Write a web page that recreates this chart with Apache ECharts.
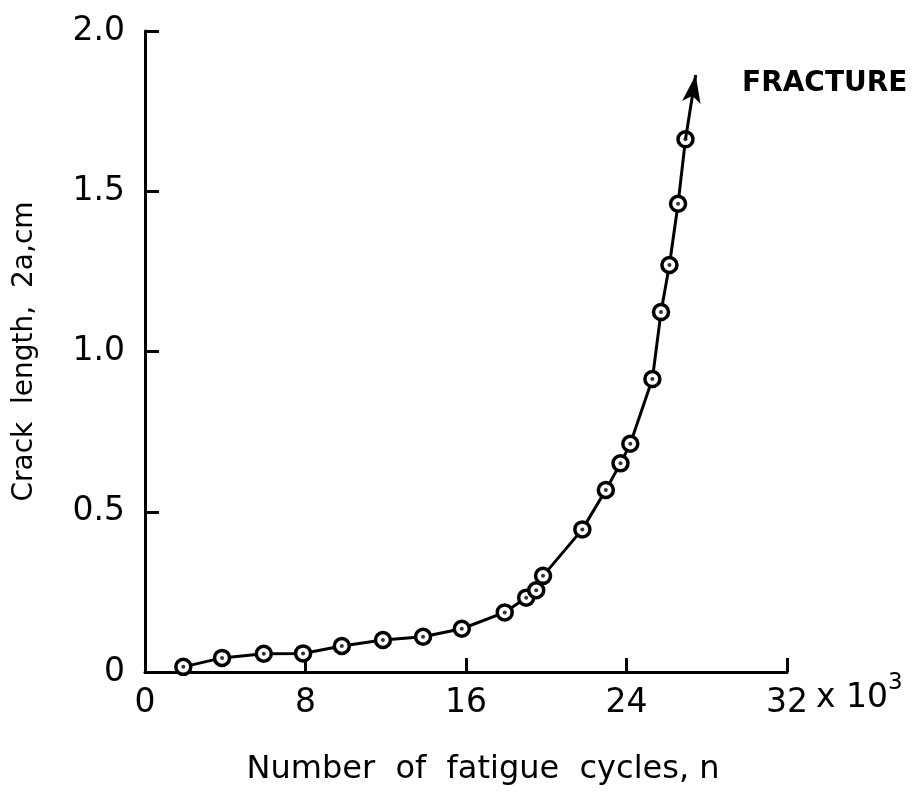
<!DOCTYPE html>
<html>
<head>
<meta charset="utf-8">
<script src="https://cdn.jsdelivr.net/npm/echarts@6/dist/echarts.min.js"></script>
<style>
html, body { margin: 0; padding: 0; background: #fff; }
#chart { width: 924px; height: 795px; }
</style>
</head>
<body>
<div id="chart"></div>
<script>
// cycles (x 10^3) and crack length 2a (cm)
var cycles = [1.91, 3.84, 5.92, 7.88, 9.81, 11.86, 13.86, 15.79, 17.93, 19.0, 19.5, 19.84,
              21.8, 22.97, 23.7, 24.19, 25.29, 25.72, 26.14, 26.57, 26.94];
var crackLength = [0.016, 0.044, 0.057, 0.058, 0.081, 0.100, 0.110, 0.135, 0.186, 0.232, 0.255, 0.300,
                   0.445, 0.568, 0.651, 0.712, 0.914, 1.123, 1.270, 1.461, 1.662];
var fractureTip = [27.45, 1.863];
var xTicks = [0, 8, 16, 24, 32];
var yTicks = [0, 0.5, 1.0, 1.5, 2.0];

var font = 'DejaVu Sans';
var points = cycles.map(function (c, i) { return [c, crackLength[i]]; });
var last = points[points.length - 1];

var chart = echarts.init(document.getElementById('chart'));
var option = {
    backgroundColor: '#fff',
    animation: false,
    grid: { left: 145, right: 137, top: 31, bottom: 123 },
    xAxis: {
        type: 'value',
        min: xTicks[0],
        max: xTicks[xTicks.length - 1],
        interval: 8,
        name: 'Number  of  fatigue  cycles, n',
        nameLocation: 'middle',
        nameGap: 82,
        nameTextStyle: { fontFamily: font, fontSize: 32, color: '#000', padding: [0, 0, 0, 34] },
        axisLine: { lineStyle: { color: '#000', width: 3 } },
        axisTick: { inside: true, length: 14, lineStyle: { color: '#000', width: 3 } },
        splitLine: { show: false },
        axisLabel: { margin: 15, fontFamily: font, fontSize: 33, color: '#000' }
    },
    yAxis: {
        type: 'value',
        min: yTicks[0],
        max: yTicks[yTicks.length - 1],
        interval: 0.5,
        name: 'Crack  length,  2a,cm',
        nameLocation: 'middle',
        nameGap: 106,
        nameTextStyle: { fontFamily: font, fontSize: 28, color: '#000' },
        axisLine: { lineStyle: { color: '#000', width: 3 } },
        axisTick: { inside: true, length: 14, lineStyle: { color: '#000', width: 3 } },
        splitLine: { show: false },
        axisLabel: {
            margin: 20, fontFamily: font, fontSize: 33, color: '#000',
            formatter: function (v) { return v === 0 ? '0' : v.toFixed(1); }
        }
    },
    series: [
        {
            type: 'line',
            data: points,
            symbol: 'circle',
            symbolSize: 15,
            z: 3,
            lineStyle: { color: '#000', width: 3 },
            itemStyle: { color: '#fff', borderColor: '#000', borderWidth: 3.5 },
            markLine: {
                silent: true,
                symbol: ['none', 'arrow'],
                symbolSize: [14, 28],
                label: { show: false },
                lineStyle: { color: '#000', width: 3, type: 'solid' },
                data: [[{ coord: last }, { coord: fractureTip }]]
            }
        },
        {
            type: 'scatter',
            data: points,
            symbol: 'circle',
            symbolSize: 4,
            z: 4,
            itemStyle: { color: '#000' }
        }
    ],
    graphic: [
        {
            type: 'text',
            left: 742,
            top: 70,
            style: { text: 'FRACTURE', fontFamily: font, fontWeight: 'bold', fontSize: 28, fill: '#000' }
        },
        {
            type: 'text',
            left: 816,
            top: 672,
            style: {
                text: '{m|x 10}{s|3}',
                rich: {
                    m: { fontFamily: font, fontSize: 33, color: '#000', padding: [16, 0, 0, 0] },
                    s: { fontFamily: font, fontSize: 23, color: '#000', padding: [0, 0, 14, 0] }
                }
            }
        }
    ]
};
chart.setOption(option);
</script>
</body>
</html>
